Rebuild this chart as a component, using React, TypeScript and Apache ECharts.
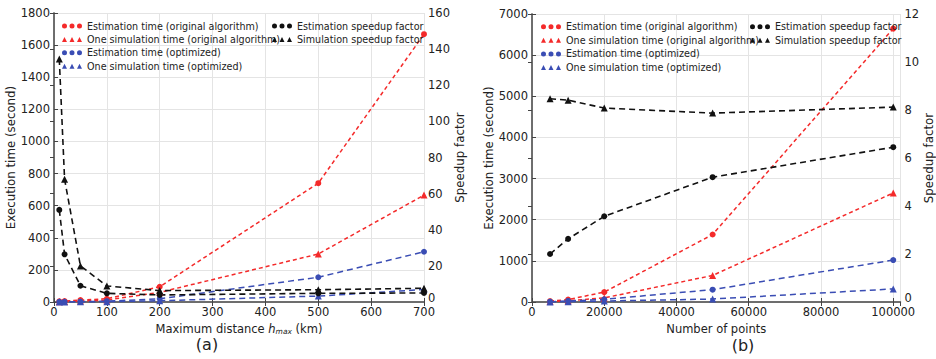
import React, { useEffect, useRef } from "react";
import * as echarts from "echarts";

// ---- data: panel (a) ----
const hmax = [10, 20, 50, 100, 200, 500, 700];
const estOrigA = [4, 6, 12, 20, 95, 740, 1668];
const simOrigA = [2, 3, 6, 12, 60, 299, 666];
const estOptA = [1, 1, 2, 5, 20, 154, 313];
const simOptA = [0.5, 0.5, 1, 2, 8, 37, 78];
const estSpeedA = [51, 26.4, 9.0, 4.8, 3.9, 4.8, 5.0];
const simSpeedA = [134.5, 68, 20, 8.9, 6.3, 6.8, 7.6];

// ---- data: panel (b) ----
const npts = [5000, 10000, 20000, 50000, 100000];
const estOrigB = [20, 60, 240, 1640, 6645];
const simOrigB = [10, 30, 100, 645, 2650];
const estOptB = [8, 25, 65, 300, 1020];
const simOptB = [3, 8, 24, 72, 318];
const estSpeedB = [2.0, 2.63, 3.57, 5.2, 6.45];
const simSpeedB = [8.47, 8.41, 8.08, 7.87, 8.12];

const N_EO = "Estimation time (original algorithm)";
const N_SO = "One simulation time (original algorithm)";
const N_EP = "Estimation time (optimized)";
const N_SP = "One simulation time (optimized)";
const N_ES = "Estimation speedup factor";
const N_SS = "Simulation speedup factor";

const RED = "#f42a2a";
const BLUE = "#3a4db4";
const BLACK = "#111111";

const CIRC3 =
  "path://M0,2.5a2.5,2.5 0 1,0 5,0a2.5,2.5 0 1,0 -5,0Z M7.5,2.5a2.5,2.5 0 1,0 5,0a2.5,2.5 0 1,0 -5,0Z M15,2.5a2.5,2.5 0 1,0 5,0a2.5,2.5 0 1,0 -5,0Z";
const TRI3 = "path://M0,5L2.5,0L5,5Z M7.5,5L10,0L12.5,5Z M15,5L17.5,0L20,5Z";

const FONT = "DejaVu Sans";
const FRAME = "#666666";
const GRIDC = "#e4e4e4";

function zip(xs: number[], ys: number[]) {
  return xs.map((x, i) => [x, ys[i]]);
}

function mkSeries(
  name: string,
  xs: number[],
  ys: number[],
  color: string,
  symbol: string,
  dash: number[],
  width: number,
  xAxisIndex: number,
  yAxisIndex: number
) {
  return {
    type: "line",
    name,
    data: zip(xs, ys),
    xAxisIndex,
    yAxisIndex,
    symbol,
    symbolSize: symbol === "triangle" ? 7 : 6,
    itemStyle: { color, borderWidth: 0 },
    lineStyle: { color, type: dash, width },
    z: 3,
  };
}

function legendBlock(left: number, top: number, names: { name: string; icon: string }[], gap: number) {
  return {
    orient: "vertical",
    left,
    top,
    padding: 0,
    itemWidth: 20,
    itemHeight: 5,
    itemGap: gap,
    selectedMode: false,
    data: names,
    itemStyle: { borderWidth: 0 },
    textStyle: { fontSize: 9.6, color: "#222", fontFamily: FONT, lineHeight: 12 },
  };
}

const plain = (v: number) => String(v);
const liftZero = (v: number) => (v === 0 ? "{z|0}" : String(v));

function xAxisBottom(gridIndex: number, min: number, max: number, interval: number, name: string, rich: any, fmt: (v: number) => string, showMax: boolean) {
  return {
    type: "value",
    gridIndex,
    position: "bottom",
    min,
    max,
    interval,
    name,
    nameLocation: "middle",
    nameGap: 19,
    nameTextStyle: { fontSize: 11.5, color: "#222", fontFamily: FONT, rich },
    axisLine: { show: true, lineStyle: { color: FRAME, width: 1.5 } },
    axisTick: { show: true, inside: true, length: 4, lineStyle: { color: "#444" } },
    axisLabel: { fontSize: 11.5, color: "#222", fontFamily: FONT, margin: 4, showMaxLabel: showMax, formatter: fmt },
    splitLine: { show: true, lineStyle: { color: GRIDC, width: 1 } },
  };
}

function xAxisTop(gridIndex: number, min: number, max: number, interval: number) {
  return {
    type: "value",
    gridIndex,
    position: "top",
    min,
    max,
    interval,
    axisLine: { show: true, lineStyle: { color: FRAME, width: 1.5 } },
    axisTick: { show: true, inside: true, length: 4, lineStyle: { color: "#444" } },
    axisLabel: { show: false },
    splitLine: { show: false },
  };
}

function yAxis(gridIndex: number, pos: string, min: number, max: number, interval: number, name: string, nameGap: number, showSplit: boolean) {
  const right = pos === "right";
  return {
    type: "value",
    gridIndex,
    position: pos,
    min,
    max,
    interval,
    name,
    nameLocation: "middle",
    nameRotate: 90,
    nameGap,
    nameTextStyle: { fontSize: 11.8, color: "#222", fontFamily: FONT },
    axisLine: { show: true, lineStyle: { color: FRAME, width: 1.5 } },
    axisTick: { show: true, inside: true, length: 4, lineStyle: { color: "#444" } },
    axisLabel: {
      fontSize: 11.5,
      color: "#222",
      fontFamily: FONT,
      margin: 4,
      formatter: right ? liftZero : plain,
      rich: { z: { fontSize: 11.5, color: "#222", fontFamily: FONT, padding: [0, 0, 9, 0] } },
    },
    splitLine: { show: showSplit, lineStyle: { color: GRIDC, width: 1 } },
  };
}

export default function App() {
  const ref = useRef<HTMLDivElement>(null);
  useEffect(() => {
    document.body.style.margin = "0";
    if (!ref.current) return;
    const chart = echarts.init(ref.current, null, { renderer: "svg" });
    const richA = {
      n: { fontSize: 11.5, color: "#222", fontFamily: FONT },
      h: { fontSize: 11.5, color: "#222", fontFamily: FONT, fontStyle: "italic" },
      s: { fontSize: 7.5, color: "#222", fontFamily: FONT, fontStyle: "italic", verticalAlign: "bottom", padding: [5, 0, 0, 0] },
    };
    const legendLeft = [
      { name: N_EO, icon: CIRC3 },
      { name: N_SO, icon: TRI3 },
      { name: N_EP, icon: CIRC3 },
      { name: N_SP, icon: TRI3 },
    ];
    const legendRight = [
      { name: N_ES, icon: CIRC3 },
      { name: N_SS, icon: TRI3 },
    ];
    const option: any = {
      animation: false,
      textStyle: { fontFamily: FONT },
      grid: [
        { left: 54, right: 512, top: 13, bottom: 57 },
        { left: 532, right: 31, top: 14, bottom: 57 },
      ],
      xAxis: [
        xAxisBottom(0, 0, 700, 100, "{n|Maximum distance }{h|h}{s|max}{n| (km)}", richA, plain, true),
        xAxisTop(0, 0, 700, 100),
        xAxisBottom(1, 0, 102000, 20000, "Number of points", undefined, (v: number) => (v % 20000 === 0 ? String(v) : ""), false),
        xAxisTop(1, 0, 102000, 20000),
      ],
      yAxis: [
        yAxis(0, "left", 0, 1800, 200, "Execution time (second)", 33, true),
        yAxis(0, "right", 0, 160, 20, "Speedup factor", 28, false),
        yAxis(1, "left", 0, 7000, 1000, "Execution time (second)", 35, true),
        yAxis(1, "right", 0, 12, 2, "Speedup factor", 16, false),
      ],
      legend: [
        legendBlock(62, 20, legendLeft, 1.4),
        legendBlock(272, 20, legendRight, 1.4),
        legendBlock(541, 20.7, legendLeft, 1.6),
        legendBlock(750, 20.7, legendRight, 1.6),
      ],
      graphic: [
        { type: "text", x: 207, y: 344, style: { text: "(a)", align: "center", verticalAlign: "middle", font: `16px "${FONT}"`, fill: "#222" } },
        { type: "text", x: 743, y: 345, style: { text: "(b)", align: "center", verticalAlign: "middle", font: `16px "${FONT}"`, fill: "#222" } },
      ],
      series: [
        mkSeries(N_EO, hmax, estOrigA, RED, "circle", [4, 3], 1.5, 0, 0),
        mkSeries(N_SO, hmax, simOrigA, RED, "triangle", [4, 3], 1.5, 0, 0),
        mkSeries(N_EP, hmax, estOptA, BLUE, "circle", [6, 4], 1.5, 0, 0),
        mkSeries(N_SP, hmax, simOptA, BLUE, "triangle", [6, 4], 1.5, 0, 0),
        mkSeries(N_ES, hmax, estSpeedA, BLACK, "circle", [6, 4], 1.6, 0, 1),
        mkSeries(N_SS, hmax, simSpeedA, BLACK, "triangle", [6, 4], 1.6, 0, 1),
        mkSeries(N_EO, npts, estOrigB, RED, "circle", [4, 3], 1.5, 2, 2),
        mkSeries(N_SO, npts, simOrigB, RED, "triangle", [4, 3], 1.5, 2, 2),
        mkSeries(N_EP, npts, estOptB, BLUE, "circle", [6, 4], 1.5, 2, 2),
        mkSeries(N_SP, npts, simOptB, BLUE, "triangle", [6, 4], 1.5, 2, 2),
        mkSeries(N_ES, npts, estSpeedB, BLACK, "circle", [6, 4], 1.6, 2, 3),
        mkSeries(N_SS, npts, simSpeedB, BLACK, "triangle", [6, 4], 1.6, 2, 3),
      ],
    };
    chart.setOption(option);
    return () => chart.dispose();
  }, []);
  return <div ref={ref} style={{ width: 936, height: 359 }} />;
}
